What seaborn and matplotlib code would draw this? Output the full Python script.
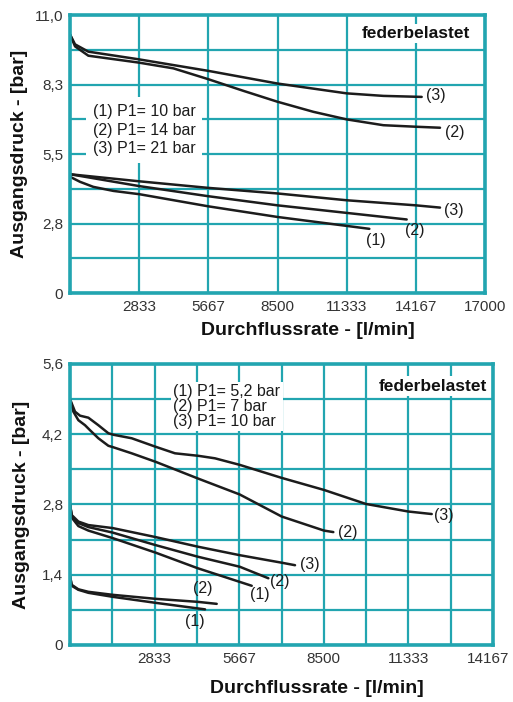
import matplotlib
matplotlib.use("Agg")
import matplotlib.pyplot as plt
import matplotlib.transforms as mtransforms
import seaborn as sns

# Diagramm 1: P1 = 10 / 14 / 21 bar, zwei Gruppen Kennlinien
top_x_ticks = [0, 2833, 5667, 8500, 11333, 14167, 17000]
top_x_labels = ["", "2833", "5667", "8500", "11333", "14167", "17000"]
top_y_ticks = [0, 1.375, 2.75, 4.125, 5.5, 6.875, 8.25, 9.625, 11.0]
top_y_labels = ["0", "", "2,8", "", "5,5", "", "8,3", "", "11,0"]

top_hi3_x = [0, 205, 751, 2799, 5667, 8494, 11334, 12836, 14406]
top_hi3_y = [10.23, 9.84, 9.55, 9.25, 8.79, 8.29, 7.90, 7.80, 7.76]
top_hi2_x = [0, 205, 751, 2799, 4233, 5667, 7101, 8494, 9969, 11334, 12836, 14160, 15157]
top_hi2_y = [10.23, 9.76, 9.39, 9.12, 8.89, 8.46, 8.00, 7.57, 7.17, 6.87, 6.64, 6.58, 6.54]

top_lo3_x = [0, 2840, 5667, 8494, 11334, 14160, 15157]
top_lo3_y = [4.70, 4.42, 4.16, 3.94, 3.67, 3.47, 3.38]
top_lo2_x = [0, 2840, 5667, 8494, 11334, 13792]
top_lo2_y = [4.70, 4.23, 3.83, 3.47, 3.17, 2.91]
top_lo1_x = [0, 410, 956, 1775, 2840, 5667, 8494, 12262]
top_lo1_y = [4.60, 4.40, 4.20, 4.04, 3.91, 3.43, 3.01, 2.54]

top_tags = ["(3)", "(2)", "(3)", "(2)", "(1)"]
top_tag_x = [14993, 15745, 15703, 14133, 12522]
top_tag_y = [7.80, 6.35, 3.25, 2.48, 2.09]
top_legend = ["(1) P1= 10 bar", "(2) P1= 14 bar", "(3) P1= 21 bar"]

# Diagramm 2: P1 = 5,2 / 7 / 10 bar
bot_x_ticks = [i * 1416.7 for i in range(11)]
bot_x_labels = ["", "", "2833", "", "5667", "", "8500", "", "11333", "", "14167"]
bot_y_ticks = [0, 0.7, 1.4, 2.1, 2.8, 3.5, 4.2, 4.9, 5.6]
bot_y_labels = ["0", "", "1,4", "", "2,8", "", "4,2", "", "5,6"]

bot_hi3_x = [0, 167, 335, 614, 949, 1284, 1451, 2065, 2869, 3516, 4298, 4856,
             5682, 7089, 8506, 9913, 11330, 12113]
bot_hi3_y = [4.90, 4.65, 4.57, 4.53, 4.38, 4.22, 4.19, 4.12, 3.95, 3.82, 3.77, 3.72,
             3.59, 3.33, 3.09, 2.81, 2.66, 2.61]
bot_hi2_x = [0, 112, 279, 502, 670, 949, 1284, 1451, 2065, 2869, 4275, 5682, 7089, 8506, 8818]
bot_hi2_y = [4.90, 4.65, 4.48, 4.38, 4.28, 4.12, 3.97, 3.94, 3.82, 3.65, 3.32, 3.00, 2.56, 2.28, 2.25]

bot_mid3_x = [0, 56, 279, 614, 1429, 2869, 4275, 5682, 7089, 7535]
bot_mid3_y = [2.81, 2.59, 2.46, 2.39, 2.33, 2.15, 1.96, 1.79, 1.64, 1.59]
bot_mid2_x = [0, 56, 279, 614, 1429, 2869, 4275, 5682, 6642]
bot_mid2_y = [2.81, 2.57, 2.43, 2.35, 2.24, 1.99, 1.76, 1.56, 1.33]
bot_mid1_x = [0, 56, 279, 614, 1429, 2869, 4275, 6085]
bot_mid1_y = [2.81, 2.54, 2.37, 2.28, 2.13, 1.84, 1.53, 1.18]

bot_lo2_x = [0, 56, 279, 614, 1429, 2869, 4275, 4912]
bot_lo2_y = [1.375, 1.20, 1.11, 1.06, 1.00, 0.92, 0.86, 0.82]
bot_lo1_x = [0, 56, 279, 614, 1429, 2869, 4521]
bot_lo1_y = [1.375, 1.18, 1.10, 1.04, 0.96, 0.84, 0.71]

bot_tags = ["(3)", "(2)", "(3)", "(2)", "(1)", "(2)", "(1)"]
bot_tag_x = [12514, 9307, 8038, 7033, 6341, 4432, 4164]
bot_tag_y = [2.59, 2.25, 1.61, 1.26, 1.00, 1.13, 0.46]
bot_legend = ["(1) P1= 5,2 bar", "(2) P1= 7 bar", "(3) P1= 10 bar"]

TEAL = "#22a5b0"
INK = "#1c1c1c"

sns.set_theme(style="white")
plt.rcParams["font.family"] = ["Liberation Sans", "DejaVu Sans"]


def style_axes(ax, xticks, xlabels, xmax, yticks, ylabels, ymax, xlab_pos, ylab_x):
    ax.set_xlim(0, xmax)
    ax.set_ylim(0, ymax)
    ax.set_xticks(xticks)
    ax.set_xticklabels(xlabels)
    ax.set_yticks(yticks)
    ax.set_yticklabels(ylabels)
    ax.tick_params(length=0, labelsize=11, labelcolor="#333333", pad=5)
    ax.grid(True, color=TEAL, lw=1.6)
    ax.set_axisbelow(True)
    for s in ax.spines.values():
        s.set_color(TEAL)
        s.set_linewidth(2.6)
    ax.set_xlabel("Durchflussrate - [l/min]", fontsize=14, fontweight="bold", color="#111111")
    ax.set_ylabel("Ausgangsdruck - [bar]", fontsize=14, fontweight="bold", color="#111111")
    ax.xaxis.set_label_coords(*xlab_pos)
    ax.yaxis.set_label_coords(ylab_x, 0.5)


def draw(ax, xs, ys):
    sns.lineplot(x=xs, y=ys, ax=ax, color=INK, lw=1.8, estimator=None, sort=False)


fig = plt.figure(figsize=(5.13, 7.02), dpi=100)
ax1 = fig.add_axes([0.1365, 0.5826, 0.8089, 0.396])
ax2 = fig.add_axes([0.1365, 0.0812, 0.8246, 0.4003])

# oberes Diagramm
style_axes(ax1, top_x_ticks, top_x_labels, 17000, top_y_ticks, top_y_labels, 11.0,
           (0.573, -0.104), -0.101)
for xs, ys in [(top_hi3_x, top_hi3_y), (top_hi2_x, top_hi2_y), (top_lo3_x, top_lo3_y),
               (top_lo2_x, top_lo2_y), (top_lo1_x, top_lo1_y)]:
    draw(ax1, xs, ys)
for t, x, y in zip(top_tags, top_tag_x, top_tag_y):
    ax1.text(x, y, t, fontsize=11.5, color=INK, ha="center", va="center")
ax1.text(930, 6.44, "\n".join(top_legend), fontsize=11.5, color=INK, ha="left", va="center",
         linespacing=1.3, bbox=dict(facecolor="white", edgecolor="none", pad=5))
ax1.text(16390, 10.27, "federbelastet", fontsize=12.5, fontweight="bold", color="#111111",
         ha="right", va="center", bbox=dict(facecolor="white", edgecolor="none", pad=1.5))

# unteres Diagramm
style_axes(ax2, bot_x_ticks, bot_x_labels, 14167, bot_y_ticks, bot_y_labels, 5.6,
           (0.584, -0.125), -0.095)
for xs, ys in [(bot_hi3_x, bot_hi3_y), (bot_hi2_x, bot_hi2_y), (bot_mid3_x, bot_mid3_y),
               (bot_mid2_x, bot_mid2_y), (bot_mid1_x, bot_mid1_y), (bot_lo2_x, bot_lo2_y),
               (bot_lo1_x, bot_lo1_y)]:
    draw(ax2, xs, ys)
for t, x, y in zip(bot_tags, bot_tag_x, bot_tag_y):
    ax2.text(x, y, t, fontsize=11.5, color=INK, ha="center", va="center")
ax2.text(3464, 4.75, "\n".join(bot_legend), fontsize=11.5, color=INK, ha="left", va="center",
         linespacing=1.0, bbox=dict(facecolor="white", edgecolor="none", pad=1.5))
ax2.text(13966, 5.16, "federbelastet", fontsize=12.5, fontweight="bold", color="#111111",
         ha="right", va="center", bbox=dict(facecolor="white", edgecolor="none", pad=1.5))

# letzte Achsbeschriftung etwas nach links, damit sie im Bild bleibt
last = ax2.get_xticklabels()[-1]
last.set_transform(last.get_transform() + mtransforms.ScaledTranslation(-5 / 100, 0, fig.dpi_scale_trans))

fig.savefig("out.png", dpi=100)
